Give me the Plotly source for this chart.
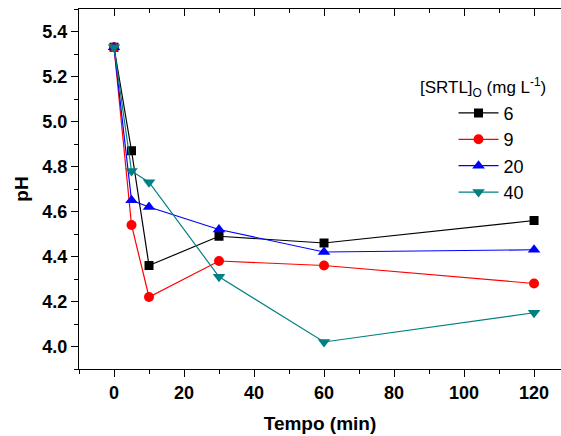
import plotly.graph_objects as go

tempo = [0, 5, 10, 30, 60, 120]
series_names = ["6", "9", "20", "40"]
ph_6 = [5.33, 4.87, 4.36, 4.49, 4.46, 4.56]
ph_9 = [5.33, 4.54, 4.22, 4.38, 4.36, 4.28]
ph_20 = [5.33, 4.65, 4.62, 4.52, 4.42, 4.43]
ph_40 = [5.33, 4.78, 4.73, 4.31, 4.02, 4.15]

colors = ["#000000", "#FF0000", "#0000FF", "#008080"]
symbols = ["square", "circle", "triangle-up", "triangle-down"]
sizes = [9, 10, 11, 11]
values = [ph_6, ph_9, ph_20, ph_40]

fig = go.Figure()
for name, y, c, s, sz in zip(series_names, values, colors, symbols, sizes):
    fig.add_trace(go.Scatter(
        x=tempo, y=y, name=name, mode="lines+markers",
        line=dict(color=c, width=1.2),
        marker=dict(symbol=s, size=sz, color=c, line=dict(width=0)),
    ))

# invisible trace for top axis
fig.add_trace(go.Scatter(x=[tempo[0]], y=[ph_6[0]], xaxis="x2", showlegend=False,
                         mode="markers", marker=dict(opacity=0), hoverinfo="skip"))

font_family = "Liberation Sans, Arial, sans-serif"
axis_common = dict(showgrid=False, zeroline=False, showline=True, linecolor="black", linewidth=1.3,
                   tickcolor="black", tickwidth=1.3, automargin=False)

fig.update_layout(
    width=561, height=436,
    margin=dict(l=79, r=0, t=9, b=67),
    paper_bgcolor="white", plot_bgcolor="white",
    font=dict(family=font_family, color="black"),
    showlegend=True,
    legend=dict(x=0.777, y=0.762, xanchor="left", yanchor="top",
                font=dict(size=18, family=font_family), bgcolor="rgba(0,0,0,0)",
                itemwidth=40, tracegroupgap=0),
    xaxis=dict(range=[-10, 127.7], tickvals=[0, 20, 40, 60, 80, 100, 120], ticks="outside", ticklen=7,
               tickfont=dict(size=18, family=font_family, weight="bold"),
               minor=dict(tickvals=[-10, 10, 30, 50, 70, 90, 110], ticks="outside", ticklen=4,
                          tickcolor="black", tickwidth=1.3),
               title=dict(text="<b>Tempo (min)</b>", font=dict(size=19, family=font_family), standoff=14),
               **axis_common),
    xaxis2=dict(overlaying="x", side="top", matches="x", range=[-10, 127.7],
                tickvals=[0, 20, 40, 60, 80, 100, 120], ticks="inside", ticklen=7, showticklabels=False,
                minor=dict(tickvals=[-10, 10, 30, 50, 70, 90, 110], ticks="inside", ticklen=4,
                           tickcolor="black", tickwidth=1.3),
                **axis_common),
    yaxis=dict(range=[3.9, 5.5], tickvals=[4.0, 4.2, 4.4, 4.6, 4.8, 5.0, 5.2, 5.4],
               ticktext=["4.0", "4.2", "4.4", "4.6", "4.8", "5.0", "5.2", "5.4"],
               ticks="outside", ticklen=7,
               tickfont=dict(size=18, family=font_family, weight="bold"),
               minor=dict(tickvals=[3.9, 4.1, 4.3, 4.5, 4.7, 4.9, 5.1, 5.3, 5.5], ticks="outside", ticklen=4,
                          tickcolor="black", tickwidth=1.3),
               title=dict(text="<b>pH</b>", font=dict(size=19, family=font_family), standoff=8),
               **axis_common),
    annotations=[dict(text="[SRTL]<sub>O</sub> (mg L<sup>-1</sup>)", xref="paper", yref="paper",
                      x=0.703, y=0.783, xanchor="left", yanchor="middle", showarrow=False,
                      font=dict(size=17, family=font_family))],
)

fig.write_html("out.html", config={"displayModeBar": False},
               post_script="document.body.style.margin='0';")
